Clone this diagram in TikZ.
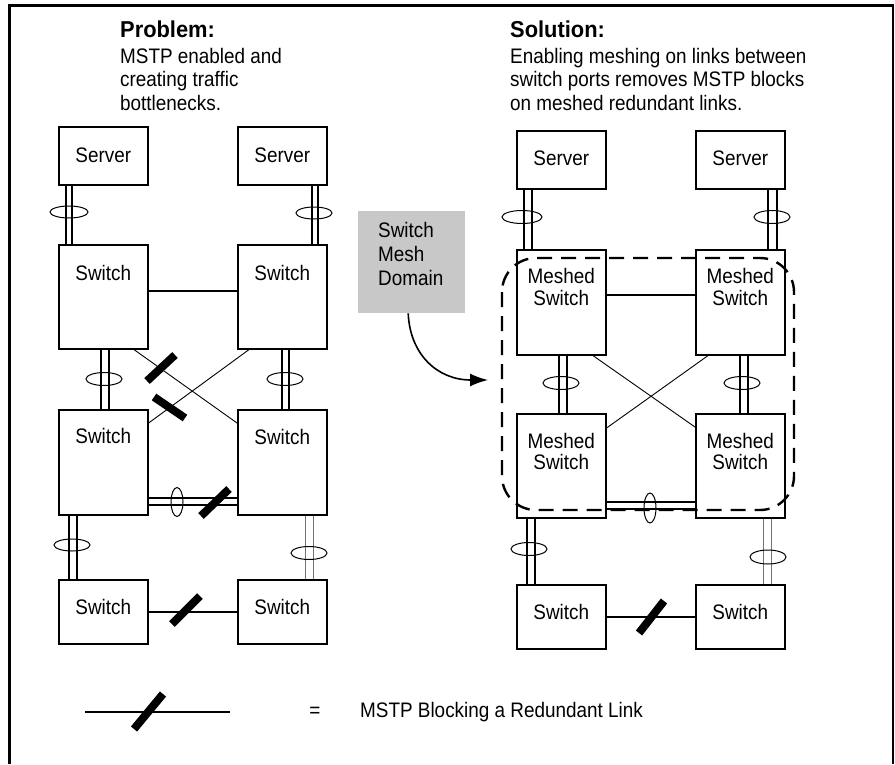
\documentclass[tikz,border=0pt]{standalone}
\usepackage{fontspec}
\setmainfont{Liberation Sans}[FakeStretch=0.9]
\newfontfamily\headfont{Liberation Sans}[FakeStretch=0.95]
\usetikzlibrary{arrows.meta}
\definecolor{meshgray}{RGB}{200,200,200}
\tikzset{
  box/.style={draw, line width=1.6pt, minimum width=89pt, anchor=north west, inner sep=0pt},
  lbl/.style={anchor=base, inner sep=0pt},
  txt/.style={anchor=base west, inner sep=0pt},
  head/.style={anchor=base west, inner sep=0pt, font=\fontsize{23}{26}\headfont\bfseries},
  link/.style={line width=1.2pt},
  graylink/.style={line width=1.0pt, black!55},
  thinlink/.style={line width=0.9pt},
  lag/.style={line width=1pt},
  blockbar/.style={line width=8pt, black},
  domainline/.style={line width=2.4pt, dash pattern=on 15pt off 9pt, rounded corners=34pt}
}
\begin{document}
\begin{tikzpicture}[x=1pt, y=-1pt, font=\fontsize{21}{24}\selectfont]
\useasboundingbox (0,0) rectangle (895,764);
% frame
\draw[line width=3pt] (9.5,764) -- (9.5,5.5) -- (894,5.5);
\draw[line width=2pt] (893,5.5) -- (893,764);

% headings
\node[head] at (120,37) {Problem:};
\node[txt] at (120,63) {MSTP enabled and};
\node[txt] at (120,86.5) {creating traffic};
\node[txt] at (120,110) {bottlenecks.};
\node[head] at (510,37) {Solution:};
\node[txt] at (510,63) {Enabling meshing on links between};
\node[txt] at (510,86.5) {switch ports removes MSTP blocks};
\node[txt] at (510,110) {on meshed redundant links.};

% ---------- left network ----------
\node[box, minimum height=58pt] (srvL1) at (58,126) {};
\node[box, minimum height=58pt] (srvL2) at (237,126) {};
\node[box, minimum height=104pt] (swL1) at (58,244) {};
\node[box, minimum height=104pt] (swL2) at (237,244) {};
\node[box, minimum height=105pt] (swL3) at (58,409) {};
\node[box, minimum height=105pt] (swL4) at (237,409) {};
\node[box, minimum height=64pt] (swL5) at (58,579) {};
\node[box, minimum height=64pt] (swL6) at (237,579) {};

\node[lbl] at ([yshift=-36pt]srvL1.north) {Server};
\node[lbl] at ([yshift=-36pt]srvL2.north) {Server};
\node[lbl] at ([yshift=-36pt]swL1.north) {Switch};
\node[lbl] at ([yshift=-36pt]swL2.north) {Switch};
\node[lbl] at ([yshift=-34pt]swL3.north) {Switch};
\node[lbl] at ([yshift=-35pt]swL4.north) {Switch};
\node[lbl] at ([yshift=-35pt]swL5.north) {Switch};
\node[lbl] at ([yshift=-35pt]swL6.north) {Switch};

% double links (left)
\foreach \o in {8,14} \draw[link] ([xshift=\o pt]srvL1.south west) -- ([xshift=\o pt]swL1.north west);
\foreach \o in {75,81} \draw[link] ([xshift=\o pt]srvL2.south west) -- ([xshift=\o pt]swL2.north west);
\foreach \o in {43,51} \draw[link] ([xshift=\o pt]swL1.south west) -- ([xshift=\o pt]swL3.north west);
\foreach \o in {45,52} \draw[link] ([xshift=\o pt]swL2.south west) -- ([xshift=\o pt]swL4.north west);
\foreach \o in {11,19} \draw[link] ([xshift=\o pt]swL3.south west) -- ([xshift=\o pt]swL5.north west);
\foreach \o in {68,76} \draw[graylink] ([xshift=\o pt]swL4.south west) -- ([xshift=\o pt]swL6.north west);
\foreach \o in {89,96} \draw[link] ([yshift=-\o pt]swL3.north east) -- ([yshift=-\o pt]swL4.north west);
% single links (left)
\draw[link] ([yshift=-47pt]swL1.north east) -- ([yshift=-47pt]swL2.north west);
\draw[thinlink] ([xshift=76pt]swL1.south west) -- ([yshift=-14pt]swL4.north west);
\draw[thinlink] ([xshift=12pt]swL2.south west) -- ([yshift=-14pt]swL3.north east);
\draw[link] ([yshift=-33pt]swL5.north east) -- ([yshift=-33pt]swL6.north west);
% aggregation ellipses (left)
\draw[lag] (69,212) ellipse [x radius=19pt, y radius=6pt];
\draw[lag] (314,213) ellipse [x radius=18pt, y radius=6pt];
\draw[lag] (104,379) ellipse [x radius=18pt, y radius=6.5pt];
\draw[lag] (285,379) ellipse [x radius=18pt, y radius=6.5pt];
\draw[lag] (72,545) ellipse [x radius=18pt, y radius=6pt];
\draw[lag] (309,553) ellipse [x radius=18pt, y radius=6.5pt];
\draw[lag] (177,502) ellipse [x radius=6pt, y radius=14.5pt];
% MSTP blocks (left)
\draw[blockbar] (147,381) -- (175,355);
\draw[blockbar] (154,397) -- (185,418);
\draw[blockbar] (201,516) -- (229,489);
\draw[blockbar] (172,624) -- (200,596);

% ---------- mesh domain callout ----------
\node[fill=meshgray, minimum width=107pt, minimum height=102pt, anchor=north west, inner sep=0pt] (dom) at (358,211) {};
\node[txt] at (378,237) {Switch};
\node[txt] at (378,261) {Mesh};
\node[txt] at (378,285) {Domain};
\coordinate (arrowend) at (488,380);
\draw[line width=1.6pt, -{Latex[length=18pt,width=13pt]}] ([xshift=-3.5pt]dom.south) .. controls (410,355) and (438,380) .. (arrowend);

% ---------- right network ----------
\node[box, minimum height=58pt] (srvR1) at (516,130) {};
\node[box, minimum height=58pt] (srvR2) at (695,130) {};
\node[box, minimum height=105pt] (mR1) at (516,249) {};
\node[box, minimum height=105pt] (mR2) at (695,249) {};
\node[box, minimum height=104pt] (mR3) at (516,413) {};
\node[box, minimum height=104pt] (mR4) at (695,413) {};
\node[box, minimum height=64pt] (swR5) at (516,584) {};
\node[box, minimum height=64pt] (swR6) at (695,584) {};

\node[lbl] at ([yshift=-35pt]srvR1.north) {Server};
\node[lbl] at ([yshift=-35pt]srvR2.north) {Server};
\node[lbl] at ([yshift=-34pt]mR1.north) {Meshed};
\node[lbl] at ([yshift=-56pt]mR1.north) {Switch};
\node[lbl] at ([yshift=-34pt]mR2.north) {Meshed};
\node[lbl] at ([yshift=-56pt]mR2.north) {Switch};
\node[lbl] at ([yshift=-35pt]mR3.north) {Meshed};
\node[lbl] at ([yshift=-56pt]mR3.north) {Switch};
\node[lbl] at ([yshift=-35pt]mR4.north) {Meshed};
\node[lbl] at ([yshift=-56pt]mR4.north) {Switch};
\node[lbl] at ([yshift=-35pt]swR5.north) {Switch};
\node[lbl] at ([yshift=-35pt]swR6.north) {Switch};

% double links (right)
\foreach \o in {8,16} \draw[link] ([xshift=\o pt]srvR1.south west) -- ([xshift=\o pt]mR1.north west);
\foreach \o in {73,82} \draw[link] ([xshift=\o pt]srvR2.south west) -- ([xshift=\o pt]mR2.north west);
\foreach \o in {43,51} \draw[link] ([xshift=\o pt]mR1.south west) -- ([xshift=\o pt]mR3.north west);
\foreach \o in {45,53} \draw[link] ([xshift=\o pt]mR2.south west) -- ([xshift=\o pt]mR4.north west);
\foreach \o in {11,19} \draw[link] ([xshift=\o pt]mR3.south west) -- ([xshift=\o pt]swR5.north west);
\foreach \o in {68,76} \draw[graylink] ([xshift=\o pt]mR4.south west) -- ([xshift=\o pt]swR6.north west);
\foreach \o in {89,96} \draw[link] ([yshift=-\o pt]mR3.north east) -- ([yshift=-\o pt]mR4.north west);
% single links (right)
\draw[link] ([yshift=-46pt]mR1.north east) -- ([yshift=-46pt]mR2.north west);
\draw[thinlink] ([xshift=77pt]mR1.south west) -- ([yshift=-14pt]mR4.north west);
\draw[thinlink] ([xshift=13pt]mR2.south west) -- ([yshift=-15pt]mR3.north east);
\draw[link] ([yshift=-33pt]swR5.north east) -- ([yshift=-33pt]swR6.north west);
% aggregation ellipses (right)
\draw[lag] (522,217) ellipse [x radius=20pt, y radius=6.5pt];
\draw[lag] (772,217) ellipse [x radius=18pt, y radius=6.5pt];
\draw[lag] (561,383) ellipse [x radius=18pt, y radius=6.5pt];
\draw[lag] (742,383) ellipse [x radius=18pt, y radius=6.5pt];
\draw[lag] (529,549) ellipse [x radius=18pt, y radius=6.5pt];
\draw[lag] (768,557) ellipse [x radius=18pt, y radius=7pt];
\draw[lag] (650,508) ellipse [x radius=6pt, y radius=15pt];
% MSTP block (right)
\draw[blockbar] (639,633) -- (664,601);
% mesh domain outline
\draw[domainline] (502,258) rectangle (794,510);

% ---------- legend ----------
\coordinate (lg1) at (85,712);
\coordinate (lg2) at (230,712);
\draw[link] (lg1) -- (lg2);
\draw[blockbar] (134,729) -- (163,694);
\node[inner sep=0pt] at (315,712) {=};
\node[txt] at (360,717) {MSTP Blocking a Redundant Link};
\end{tikzpicture}
\end{document}
